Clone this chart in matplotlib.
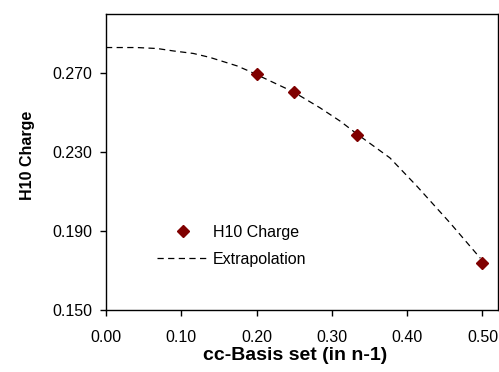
import matplotlib
matplotlib.use('Agg')
import matplotlib.pyplot as plt

plt.rcParams['font.family'] = ['Liberation Sans', 'DejaVu Sans']

# H10 charge per basis set (1/n)
basis_x = [0.2, 0.25, 1 / 3, 0.5]
charge_y = [0.2694, 0.2603, 0.2389, 0.1739]

# extrapolation curve
extrap_x = [0.0, 0.041, 0.068, 0.089, 0.116, 0.138, 0.174, 0.191, 0.249,
            0.284, 0.311, 0.334, 0.377, 0.413, 0.457, 0.497]
extrap_y = [0.2830, 0.2830, 0.2825, 0.2813, 0.2800, 0.2780, 0.2737, 0.2709,
            0.2605, 0.2525, 0.2457, 0.2390, 0.2271, 0.2127, 0.1941, 0.1763]

xticks = [0.0, 0.1, 0.2, 0.3, 0.4, 0.5]
yticks = [0.150, 0.190, 0.230, 0.270]

fig = plt.figure(figsize=(4.99, 3.72), dpi=100)
ax = fig.add_axes([0.2124, 0.1667, 0.7856, 0.7957])

ax.plot(basis_x, charge_y, linestyle='none', marker='D', markersize=6.5,
        color='#800000', label='H10 Charge', zorder=3)
ax.plot(extrap_x, extrap_y, color='black', linewidth=0.9,
        dashes=(5, 3.5), label='Extrapolation', zorder=2)

ax.set_xlim(0, 0.5206)
ax.set_ylim(0.15, 0.30)
ax.set_xticks(xticks)
ax.set_yticks(yticks)
ax.set_xticklabels([f'{v:.2f}' for v in xticks])
ax.set_yticklabels([f'{v:.3f}' for v in yticks])
ax.tick_params(direction='out', length=4.5, width=1, labelsize=11.5,
               top=False, right=False)
ax.tick_params(axis='x', pad=10)
ax.tick_params(axis='y', pad=5.5)
for s in ax.spines.values():
    s.set_linewidth(1)

ax.set_xlabel('cc-Basis set (in n-1)', fontsize=14, fontweight='bold',
              va='top')
ax.xaxis.set_label_coords(0.483, -0.125)
ax.set_ylabel('H10 Charge', fontsize=11.5, fontweight='bold')
ax.yaxis.set_label_coords(-0.18, 0.524)

ax.legend(loc='upper left', bbox_to_anchor=(0.13, 0.287), frameon=False,
          fontsize=11.5, handlelength=3.2, handletextpad=0.3,
          labelspacing=0.75, borderpad=0, borderaxespad=0)

fig.savefig('out.png', dpi=100)
